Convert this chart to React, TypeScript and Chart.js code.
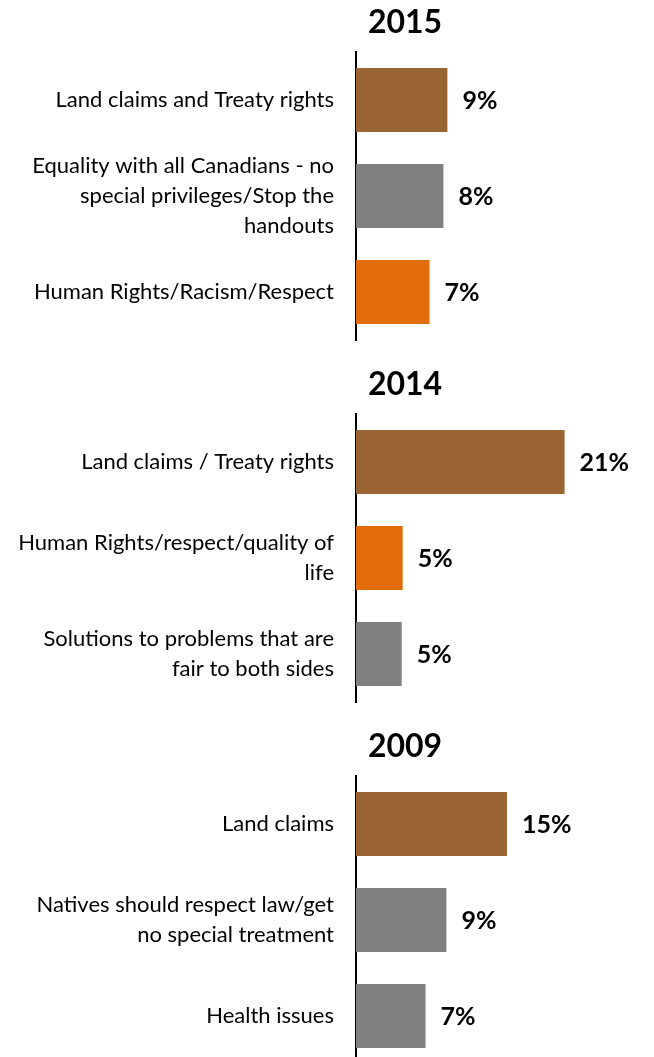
import React, { useEffect, useRef } from "react";
import { Chart, registerables } from "chart.js";

Chart.register(...registerables);

// ---- data ----
const years = ["2015", "2014", "2009"];

const categories2015: (string | string[])[] = [
  "Land claims and Treaty rights",
  ["Equality with all Canadians - no", "special privileges/Stop the", "handouts"],
  "Human Rights/Racism/Respect",
];
const values2015 = [9.2, 8.8, 7.4];
const valueLabels2015 = ["9%", "8%", "7%"];

const categories2014: (string | string[])[] = [
  "Land claims / Treaty rights",
  ["Human Rights/respect/quality of", "life"],
  ["Solutions to problems that are", "fair to both sides"],
];
const values2014 = [21, 4.7, 4.6];
const valueLabels2014 = ["21%", "5%", "5%"];

const categories2009: (string | string[])[] = [
  "Land claims",
  ["Natives should respect law/get", "no special treatment"],
  "Health issues",
];
const values2009 = [15.2, 9.1, 7.0];
const valueLabels2009 = ["15%", "9%", "7%"];

// ---- styles ----
const BROWN = "#996633";
const GRAY = "#808080";
const ORANGE = "#E36C0A";
const colors2015 = [BROWN, GRAY, ORANGE];
const colors2014 = [BROWN, ORANGE, GRAY];
const colors2009 = [BROWN, GRAY, GRAY];

const FONT = "Lato, 'Open Sans', sans-serif";

type PanelProps = {
  title: string;
  categories: (string | string[])[];
  values: number[];
  valueLabels: string[];
  colors: string[];
};

function Panel({ title, categories, values, valueLabels, colors }: PanelProps) {
  const ref = useRef<HTMLCanvasElement | null>(null);
  useEffect(() => {
    if (!ref.current) return;
    const extras = {
      id: "extras",
      afterDraw(chart: any) {
        const ctx = chart.ctx;
        const area = chart.chartArea;
        ctx.save();
        ctx.fillStyle = "#000";
        ctx.font = `bold 32px ${FONT}`;
        ctx.textAlign = "center";
        ctx.textBaseline = "middle";
        ctx.fillText(title, area.left + 49, 23);
        const meta = chart.getDatasetMeta(0);
        ctx.font = `bold 25px ${FONT}`;
        ctx.textAlign = "left";
        meta.data.forEach((bar: any, i: number) => {
          ctx.fillText(valueLabels[i], bar.x + 15, bar.y + 1);
        });
        ctx.restore();
      },
    };
    const chart = new Chart(ref.current, {
      type: "bar",
      data: {
        labels: categories,
        datasets: [
          {
            data: values,
            backgroundColor: colors,
            borderWidth: 0,
            barPercentage: 0.667,
            categoryPercentage: 1,
          },
        ],
      },
      options: {
        indexAxis: "y",
        animation: false,
        responsive: false,
        maintainAspectRatio: false,
        layout: { padding: { top: 52, bottom: 22, left: 0, right: 0 } },
        plugins: {
          legend: { display: false },
          title: { display: false },
          tooltip: { enabled: false },
        },
        scales: {
          x: { display: false, min: 0, max: 30 },
          y: {
            grid: { display: false, drawTicks: false },
            border: { display: true, color: "#000", width: 2 },
            ticks: {
              color: "#000",
              padding: 22,
              font: { family: FONT, size: 22, lineHeight: 1.36 },
            },
            afterFit(scale: any) {
              scale.width = 356;
              scale.paddingTop = 0;
              scale.paddingBottom = 0;
            },
          },
        },
      },
      plugins: [extras],
    });
    return () => chart.destroy();
  }, []);
  return (
    <div style={{ width: 654, height: 362 }}>
      <canvas ref={ref} width={654} height={362} style={{ display: "block" }} />
    </div>
  );
}

export default function App() {
  return (
    <div
      style={{
        position: "absolute",
        left: 0,
        top: 0,
        width: 654,
        height: 1057,
        overflow: "hidden",
        background: "#fff",
      }}
    >
      <Panel title={years[0]} categories={categories2015} values={values2015} valueLabels={valueLabels2015} colors={colors2015} />
      <Panel title={years[1]} categories={categories2014} values={values2014} valueLabels={valueLabels2014} colors={colors2014} />
      <Panel title={years[2]} categories={categories2009} values={values2009} valueLabels={valueLabels2009} colors={colors2009} />
    </div>
  );
}
